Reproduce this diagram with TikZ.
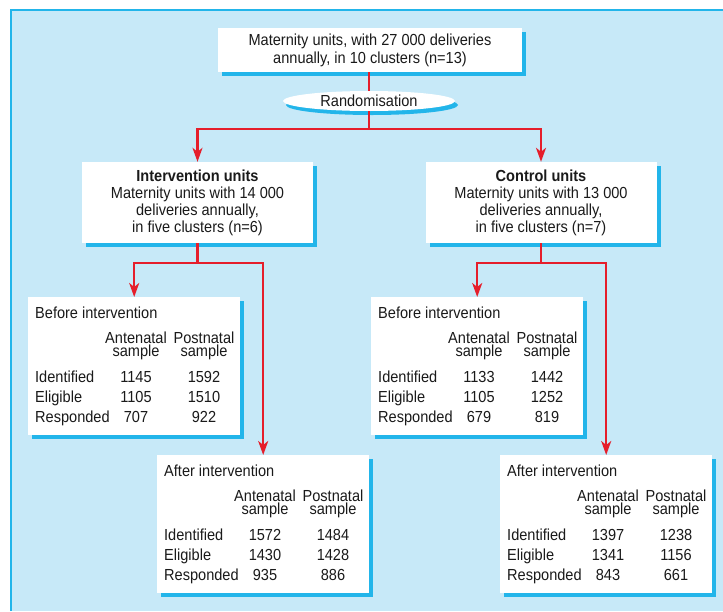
\documentclass[tikz,border=0pt]{standalone}
\usepackage{fontspec}
\setmainfont{Liberation Sans}[FakeStretch=0.91]
\usetikzlibrary{arrows.meta,shapes.geometric,shadows,calc}
\definecolor{bgblue}{HTML}{C7E9F8}
\definecolor{cyanb}{HTML}{22B5EA}
\definecolor{redl}{HTML}{E51E2B}
\definecolor{ink}{HTML}{1A1A1A}

\newcommand\databox[8]{%
  \node[lbl, anchor=base west] (#1-title) at ($(#1.north west)+(7,21)$) {#2};
  \node[lbl, hdr, anchor=base] (#1-ha) at ($(#1.north west)+(108,59)$) {Antenatal\\sample};
  \node[lbl, hdr, anchor=base] (#1-hp) at ($(#1.north west)+(176,59)$) {Postnatal\\sample};
  \node[lbl, anchor=base west] (#1-r1) at ($(#1.north west)+(7,85)$) {Identified};
  \node[lbl, anchor=base west] (#1-r2) at ($(#1.north west)+(7,105)$) {Eligible};
  \node[lbl, anchor=base west] (#1-r3) at ($(#1.north west)+(7,125)$) {Responded};
  \node[lbl, anchor=base] (#1-a1) at ($(#1.north west)+(108,85)$) {#3};
  \node[lbl, anchor=base] (#1-p1) at ($(#1.north west)+(176,85)$) {#4};
  \node[lbl, anchor=base] (#1-a2) at ($(#1.north west)+(108,105)$) {#5};
  \node[lbl, anchor=base] (#1-p2) at ($(#1.north west)+(176,105)$) {#6};
  \node[lbl, anchor=base] (#1-a3) at ($(#1.north west)+(108,125)$) {#7};
  \node[lbl, anchor=base] (#1-p3) at ($(#1.north west)+(176,125)$) {#8};
}

\begin{document}
\begin{tikzpicture}[x=1pt,y=-1pt,
  font=\fontsize{16}{18}\selectfont, text=ink,
  shadowed/.style={fill=white, general shadow={fill=cyanb, shadow xshift=4pt, shadow yshift=-4pt}},
  unitbox/.style={shadowed, inner sep=0pt, minimum width=231pt, minimum height=81pt, align=center, font=\fontsize{16}{17}\selectfont},
  datab/.style={shadowed, inner sep=0pt, minimum width=212pt, minimum height=138pt, anchor=north west},
  lbl/.style={inner sep=0pt},
  hdr/.style={align=center, font=\fontsize{16}{13}\selectfont},
  link/.style={draw=redl, line width=2.2pt},
  arr/.style={link, -{Stealth[length=14pt,width=10pt,inset=4pt]}}]
\useasboundingbox (0,0) rectangle (723,611);
\fill[bgblue] (10,9) rectangle (723,611);
\draw[cyanb, line width=2pt] (11,611) -- (11,10) -- (723,10);

\node[shadowed, inner sep=0pt, minimum width=304pt, minimum height=44pt, align=center] (top) at (370,50)
  {Maternity units, with 27 000 deliveries\\annually, in 10 clusters (n=13)};
\node[ellipse, fill=white, general shadow={fill=cyanb, shadow xshift=3pt, shadow yshift=-4pt},
  minimum width=172pt, minimum height=20pt, inner sep=0pt] (rand) at (369,101) {Randomisation};

\node[unitbox] (int) at (197.5,202.5)
  {\textbf{Intervention units}\\Maternity units with 14 000\\deliveries annually,\\in five clusters (n=6)};
\node[unitbox] (ctl) at (541,202.5)
  {\textbf{Control units}\\Maternity units with 13 000\\deliveries annually,\\in five clusters (n=7)};

\node[datab] (bl) at (28,297) {};
\node[datab] (al) at (157,455) {};
\node[datab] (br) at (371,297) {};
\node[datab] (ar) at (500,455) {};

\databox{bl}{Before intervention}{1145}{1592}{1105}{1510}{707}{922}
\databox{al}{After intervention}{1572}{1484}{1430}{1428}{935}{886}
\databox{br}{Before intervention}{1133}{1442}{1105}{1252}{679}{819}
\databox{ar}{After intervention}{1397}{1238}{1341}{1156}{843}{661}

\coordinate (s1) at (369,129);
\coordinate (s2) at (197.5,263);
\coordinate (s3) at (541,263);

\draw[link] (top.south -| rand.north) -- (rand.north);
\draw[link] (rand.south) -- (s1);
\draw[arr] (s1) -| (int.north);
\draw[arr] (s1) -| (ctl.north);
\draw[link] (int.south) -- (s2);
\draw[arr] (s2) -| (bl.north);
\draw[arr] (s2) -| (al.north);
\draw[link] (ctl.south) -- (s3);
\draw[arr] (s3) -| (br.north);
\draw[arr] (s3) -| (ar.north);
\end{tikzpicture}
\end{document}
